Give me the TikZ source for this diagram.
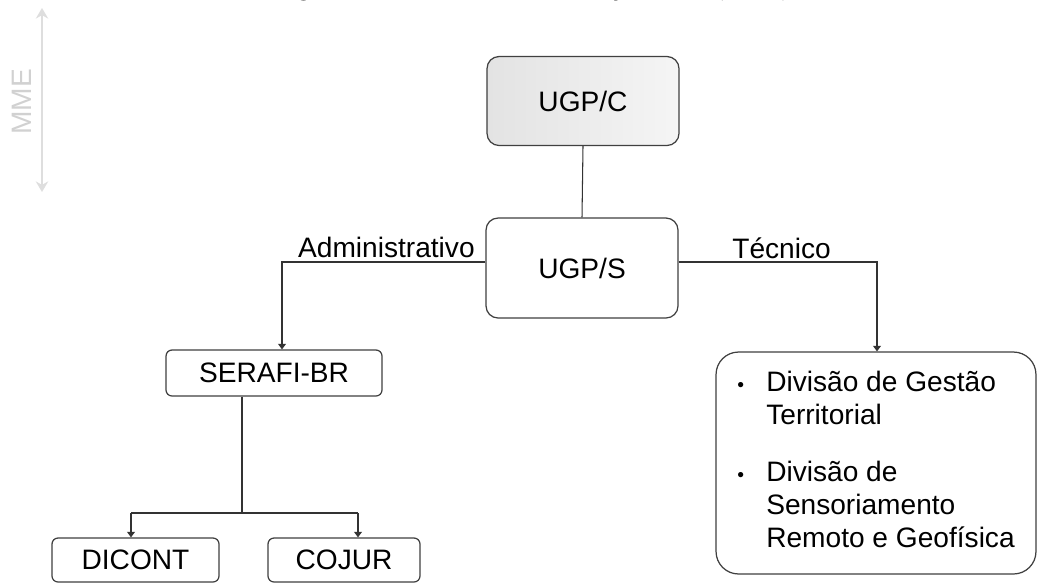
\documentclass[tikz,border=0pt]{standalone}
\usepackage{fontspec}
\setmainfont{Liberation Sans}
\newfontfamily\titlefont{Liberation Serif}
\usetikzlibrary{arrows.meta}

\begin{document}
\begin{tikzpicture}[
  x=0.02cm,y=-0.02cm,
  box/.style={draw=black!75, line width=0.7pt, rounded corners=0.12cm,
              align=center, inner sep=0pt, font=\fontsize{16}{19}\selectfont},
  unit/.style={box, rounded corners=0.24cm, minimum width=3.84cm},
  division/.style={box, minimum height=0.88cm},
  group/.style={box, rounded corners=0.45cm, align=left,
                minimum width=6.4cm, minimum height=4.44cm},
  flow/.style={draw=black!80, line width=0.6pt},
  arrow/.style={flow, -{Triangle[length=3.2pt,width=4.5pt]}},
  label/.style={inner sep=0pt, font=\fontsize{16}{19}\selectfont},
  mme/.style={draw=black!13, line width=1.3pt, {Stealth[length=6pt,width=7pt]}-{Stealth[length=6pt,width=7pt]}},
  title/.style={inner sep=0pt, text=black!85,
                font=\titlefont\bfseries\itshape\fontsize{12}{14}\selectfont}
]
  \useasboundingbox[fill=white] (0,0) rectangle (1037,583);
  \clip (0,0) rectangle (1037,583);

  \node[title,anchor=base] (caption) at (536,-4)
    {Figura 1 – Estrutura Gerencial do Projeto META (CPRM)};

  % MME
  \coordinate (mmetop) at (42,8);
  \coordinate (mmebot) at (42,192);
  \draw[mme] (mmetop) -- (mmebot);
  \node[label,text=black!18,rotate=90] (mmetxt) at (22,102) {MME};

  \node[unit,minimum height=1.78cm,
        left color=black!11,right color=black!4] (ugpc) at (583,101) {UGP/C};
  \node[unit,minimum height=2.0cm] (ugps) at (582,268) {UGP/S};
  \draw[flow] (ugpc.south) -- (ugps.north);

  \node[division,minimum width=4.32cm,minimum height=0.92cm] (serafi) at (274,373) {SERAFI-BR};
  \node[division,minimum width=3.34cm] (dicont) at (135.5,560) {DICONT};
  \node[division,minimum width=3.04cm] (cojur) at (344,560) {COJUR};

  \node[group] (div) at (876,463) {%
    \begin{tabular}{@{}p{0.58cm}@{}l@{}}
      {\fontsize{11}{11}\selectfont\textbullet} & Divisão de Gestão\\
        & Territorial\\[13pt]
      {\fontsize{11}{11}\selectfont\textbullet} & Divisão de\\
        & Sensoriamento\\
        & Remoto e Geofísica
    \end{tabular}};

  \coordinate (adm) at (282,262);
  \coordinate (tec) at (877,262);
  \draw[arrow] (ugps.west |- adm) -| (serafi.north -| adm);
  \draw[arrow] (ugps.east |- tec) -| (div.north -| tec);
  \node[label,anchor=base east] (admtxt) at (475,257) {Administrativo};
  \node[label,anchor=base west] (tectxt) at (732,258) {Técnico};

  \coordinate (split) at (242,513);
  \coordinate (left) at (131,513);
  \coordinate (right) at (358,513);
  \draw[flow] (serafi.south -| split) -- (split);
  \draw[flow] (left) -- (right);
  \draw[arrow] (left) -- (dicont.north -| left);
  \draw[arrow] (right) -- (cojur.north -| right);
\end{tikzpicture}
\end{document}
